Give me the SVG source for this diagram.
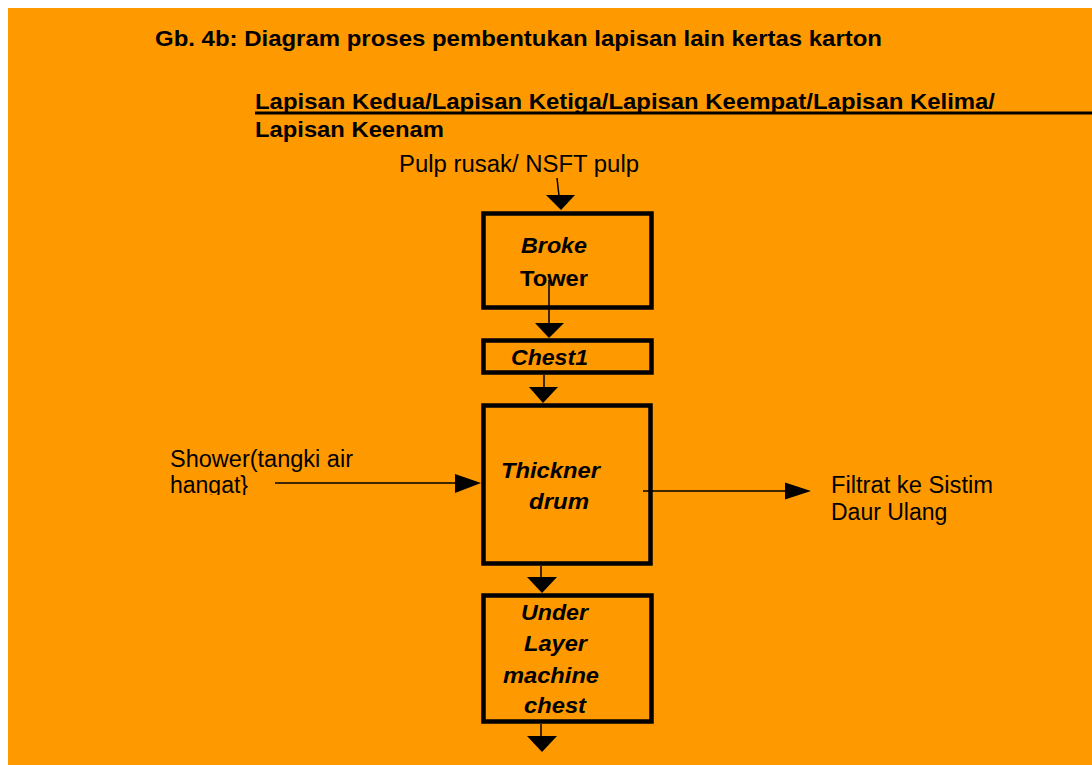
<svg xmlns="http://www.w3.org/2000/svg" width="1092" height="765" viewBox="0 0 1092 765">
<defs>
<style>
.b{font-family:"Liberation Sans",Arial,sans-serif;font-weight:bold;font-size:22px;fill:#000}
.bi{font-family:"Liberation Sans",Arial,sans-serif;font-weight:bold;font-style:italic;font-size:22px;fill:#000}
.r{font-family:"Liberation Sans",Arial,sans-serif;font-size:23px;fill:#000}
.box{fill:none;stroke:#000;stroke-width:4.5}
.ln{stroke:#000;stroke-width:1.5;fill:none}
.ah{fill:#000}
</style>
<clipPath id="clipShower"><rect x="160" y="440" width="200" height="55"/></clipPath>
</defs>
<rect x="0" y="0" width="1092" height="765" fill="#fff"/>
<rect x="8" y="8" width="1084" height="757" fill="#FF9900"/>
<g id="title">
<text class="b" x="155" y="46" textLength="727" lengthAdjust="spacingAndGlyphs">Gb. 4b: Diagram proses pembentukan lapisan lain kertas karton</text>
</g>
<g id="subtitle">
<text class="b" x="255" y="109" font-size="20" textLength="740" lengthAdjust="spacingAndGlyphs">Lapisan Kedua/Lapisan Ketiga/Lapisan Keempat/Lapisan Kelima/</text>
<rect x="255" y="111.5" width="837" height="3" fill="#000"/>
<text class="b" x="255" y="137" font-size="20" textLength="189" lengthAdjust="spacingAndGlyphs">Lapisan Keenam</text>
</g>
<g id="input-label">
<text class="r" x="399" y="172" textLength="240" lengthAdjust="spacingAndGlyphs">Pulp rusak/ NSFT pulp</text>
</g>
<g id="broke-tower">
<rect class="box" x="483.5" y="213.5" width="168" height="94"/>
<text class="bi" x="521" y="253" textLength="66" lengthAdjust="spacingAndGlyphs">Broke</text>
<text class="b" x="520" y="286" textLength="68" lengthAdjust="spacingAndGlyphs">Tower</text>
</g>
<g id="chest1">
<rect class="box" x="483.5" y="340.5" width="168" height="32"/>
<text class="bi" x="511" y="365" textLength="77" lengthAdjust="spacingAndGlyphs">Chest1</text>
</g>
<g id="thickner-drum">
<rect class="box" x="483.5" y="405.5" width="167" height="158"/>
<text class="bi" x="501" y="478" textLength="99" lengthAdjust="spacingAndGlyphs">Thickner</text>
<text class="bi" x="529" y="509" textLength="60" lengthAdjust="spacingAndGlyphs">drum</text>
</g>
<g id="under-layer-machine-chest">
<rect class="box" x="483.5" y="595.5" width="168" height="126"/>
<text class="bi" x="521" y="620" textLength="67" lengthAdjust="spacingAndGlyphs">Under</text>
<text class="bi" x="524" y="651" textLength="63" lengthAdjust="spacingAndGlyphs">Layer</text>
<text class="bi" x="503" y="683" textLength="96" lengthAdjust="spacingAndGlyphs">machine</text>
<text class="bi" x="524" y="713" textLength="62" lengthAdjust="spacingAndGlyphs">chest</text>
</g>
<g id="shower-label">
<text class="r" x="170" y="467" textLength="183" lengthAdjust="spacingAndGlyphs">Shower(tangki air</text>
<text class="r" x="170" y="493" clip-path="url(#clipShower)">hangat}</text>
</g>
<g id="filtrat-label">
<text class="r" x="831" y="493" textLength="162" lengthAdjust="spacingAndGlyphs">Filtrat ke Sistim</text>
<text class="r" x="831" y="520">Daur Ulang</text>
</g>
<g id="connectors">
<line class="ln" x1="557" y1="178" x2="559" y2="196"/>
<polygon class="ah" points="546,195 575,195 561,210"/>
<line class="ln" x1="549" y1="280" x2="549" y2="324"/>
<polygon class="ah" points="535,323 564,323 549,338"/>
<line class="ln" x1="544" y1="375" x2="544" y2="388"/>
<polygon class="ah" points="529,387 558,387 543,403"/>
<line class="ln" x1="275" y1="483" x2="456" y2="483"/>
<polygon class="ah" points="455,474 455,493 481,483"/>
<line class="ln" x1="643" y1="491" x2="786" y2="491"/>
<polygon class="ah" points="785,482.5 785,499.5 811,491"/>
<line class="ln" x1="541" y1="566" x2="541" y2="578"/>
<polygon class="ah" points="527,577 557,577 542,593"/>
<line class="ln" x1="541" y1="724" x2="541" y2="737"/>
<polygon class="ah" points="527,736 557,736 542,752"/>
</g>
</svg>
